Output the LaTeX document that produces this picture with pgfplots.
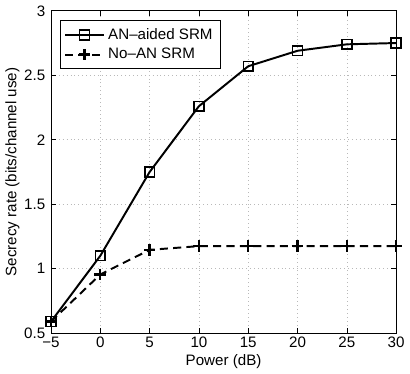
\documentclass[border=0pt]{standalone}
\usepackage{fontspec}
\setmainfont{Liberation Sans}
\usepackage{pgfplots}
\pgfplotsset{compat=1.18}

\begin{document}
\begin{tikzpicture}
\begin{axis}[
  scale only axis,
  width=212pt,
  height=198pt,
  xmin=-5, xmax=30,
  ymin=0.5, ymax=3,
  xtick={-5,0,...,30},
  xticklabels={−5,0,5,10,15,20,25,30},
  ytick={0.5,1,...,3},
  yticklabels={0.5,1,1.5,2,2.5,3},
  xlabel={Power (dB)},
  ylabel={Secrecy rate (bits/channel use)},
  grid=major,
  grid style={gray!55, dotted, line width=0.4pt},
  tick align=inside,
  major tick length=3pt,
  tick style={black, line width=0.4pt},
  axis line style={line width=0.6pt},
  font=\fontsize{9.3}{11}\selectfont,
  /pgf/number format/assume math mode=true,
  xlabel style={yshift=3pt},
  ylabel style={yshift=-4pt},
  xticklabel style={yshift=1pt},
  legend style={at={(0.025,0.97)}, anchor=north west, draw=black,
    line width=0.5pt, font=\fontsize{9.3}{12.5}\selectfont, inner sep=2.5pt,
    row sep=0pt},
  legend image code/.code={
    \draw[mark repeat=2,mark phase=2] plot coordinates {(0cm,0cm) (0.42cm,0cm) (0.84cm,0cm)};},
  legend cell align=left,
]
\addplot[black, line width=1.2pt, mark=square, mark size=3pt,
  mark options={solid, line width=1pt}]
  coordinates {
    (-5,0.59)(0,1.10)(5,1.75)(10,2.26)(15,2.57)(20,2.69)(25,2.74)(30,2.75)
  };
\addlegendentry{AN\textendash aided SRM}
\addplot[black, line width=1.2pt, dash pattern=on 5pt off 3.2pt, mark=+, mark size=3.6pt,
  mark options={solid, line width=1.4pt}]
  coordinates {
    (-5,0.59)(0,0.955)(5,1.146)(10,1.175)(15,1.175)(20,1.175)(25,1.175)(30,1.175)
  };
\addlegendentry{No\textendash AN SRM}
\end{axis}
\end{tikzpicture}
\end{document}
